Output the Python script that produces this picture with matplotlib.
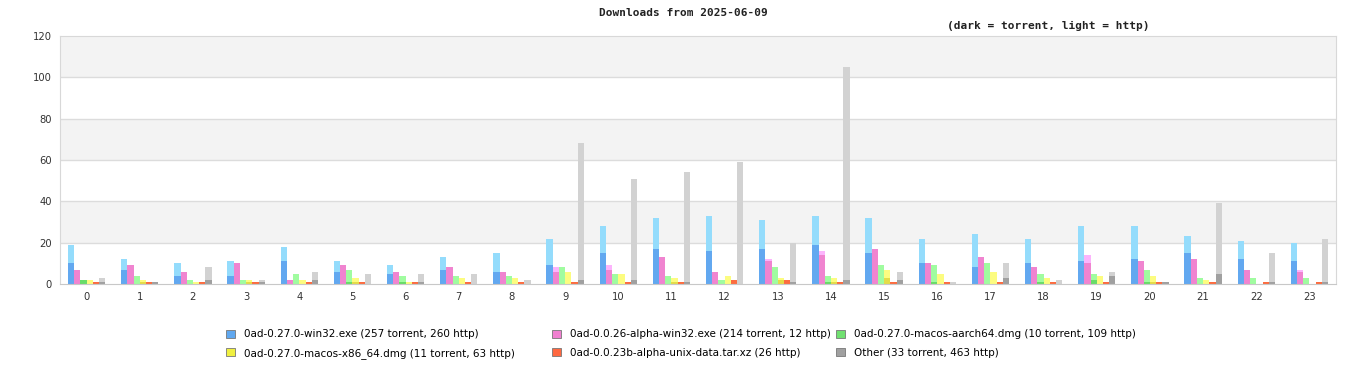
#!/usr/bin/env python3
# Hourly downloads chart: dark = torrent, light = http, one stacked bar per file
import matplotlib
matplotlib.use('Agg')
import matplotlib.pyplot as plt
from matplotlib.patches import Patch

hours = list(range(24))

# per-file counts by hour
win32_torrent = [10, 7, 4, 4, 11, 6, 5, 7, 6, 9, 15, 17, 16, 17, 19, 15, 10, 8, 10, 11, 12, 15, 12, 11]
win32_http    = [9, 5, 6, 7, 7, 5, 4, 6, 9, 13, 13, 15, 17, 14, 14, 17, 12, 16, 12, 17, 16, 8, 9, 9]
a26_torrent   = [7, 9, 6, 10, 2, 9, 6, 8, 6, 6, 7, 13, 6, 11, 14, 17, 10, 13, 8, 10, 11, 12, 7, 6]
a26_http      = [0, 0, 0, 0, 0, 0, 0, 0, 0, 2, 2, 0, 0, 1, 2, 0, 0, 0, 0, 4, 0, 0, 0, 1]
arm_torrent   = [2, 0, 0, 0, 0, 1, 1, 0, 0, 0, 0, 0, 0, 0, 1, 0, 1, 0, 1, 2, 1, 0, 0, 0]
arm_http      = [0, 4, 2, 2, 5, 6, 3, 4, 4, 8, 5, 4, 2, 8, 3, 9, 8, 10, 4, 3, 6, 3, 3, 3]
x86_torrent   = [0, 1, 0, 1, 0, 1, 0, 0, 0, 0, 0, 1, 0, 2, 1, 3, 0, 0, 0, 0, 1, 0, 0, 0]
x86_http      = [2, 1, 1, 1, 2, 2, 1, 3, 3, 6, 5, 2, 4, 1, 2, 4, 5, 6, 3, 4, 3, 2, 0, 0]
data23_torrent = [0] * 24
data23_http   = [1, 1, 1, 1, 1, 1, 1, 1, 1, 1, 1, 1, 2, 2, 1, 1, 1, 1, 1, 1, 1, 1, 1, 1]
other_torrent = [1, 1, 2, 1, 2, 0, 1, 0, 0, 2, 2, 1, 0, 1, 2, 2, 0, 3, 0, 4, 1, 5, 1, 1]
other_http    = [2, 0, 6, 1, 4, 5, 4, 5, 2, 66, 49, 53, 59, 19, 103, 4, 1, 7, 2, 2, 0, 34, 14, 21]

labels = [
    '0ad-0.27.0-win32.exe (257 torrent, 260 http)',
    '0ad-0.0.26-alpha-win32.exe (214 torrent, 12 http)',
    '0ad-0.27.0-macos-aarch64.dmg (10 torrent, 109 http)',
    '0ad-0.27.0-macos-x86_64.dmg (11 torrent, 63 http)',
    '0ad-0.0.23b-alpha-unix-data.tar.xz (26 http)',
    'Other (33 torrent, 463 http)',
]
torrent = [win32_torrent, a26_torrent, arm_torrent, x86_torrent, data23_torrent, other_torrent]
http = [win32_http, a26_http, arm_http, x86_http, data23_http, other_http]

dark = ['#62a8f0', '#f084d0', '#68dc68', '#e4dc48', '#fc6c40', '#a0a0a0']
light = ['#94dcfc', '#fcb4fc', '#a0fca0', '#fcfc80', '#fc6c40', '#d2d2d2']
legend_col = ['#60a8f0', '#f080d0', '#70e070', '#f0f040', '#ff6840', '#a0a0a0']

fig = plt.figure(figsize=(13.66, 3.8), dpi=100)
ax = fig.add_axes([60 / 1366, 96 / 380, 1276 / 1366, 248 / 380])

# alternating bands
for lo in range(0, 120, 20):
    ax.axhspan(lo, lo + 20, color='#f3f3f3' if (lo // 20) % 2 else 'white', zorder=0, lw=0)
for y in range(20, 120, 20):
    ax.axhline(y, color='#dcdcdc', lw=1, zorder=1)

bw = 0.117
for k in range(6):
    xs = [h - 0.35 + k * bw for h in hours]
    ax.bar(xs, torrent[k], width=bw, align='edge', color=dark[k], lw=0, zorder=2)
    ax.bar(xs, http[k], width=bw, bottom=torrent[k], align='edge', color=light[k], lw=0, zorder=2)

ax.set_xlim(-0.5, 23.5)
ax.set_ylim(0, 120)
ax.set_yticks(range(0, 121, 20))
ax.set_xticks(hours)
ax.tick_params(length=0, labelsize=7.2, colors='#333333', pad=6)
for s in ax.spines.values():
    s.set_color('#d8d8d8')
ax.spines['bottom'].set_color('#c8c8c8')

fig.text(0.5, 1 - 13 / 380, 'Downloads from 2025-06-09', ha='center', va='center',
         family='DejaVu Sans Mono', fontsize=8, fontweight='bold', color='#222222')
fig.text(1048 / 1366, 1 - 26 / 380, '(dark = torrent, light = http)', ha='center', va='center',
         family='DejaVu Sans Mono', fontsize=8, fontweight='bold', color='#222222')

# legend: three columns placed separately, two rows each
handles = [Patch(facecolor=legend_col[k], edgecolor='#777777', lw=0.6, label=labels[k]) for k in range(6)]
columns = [(0, 3), (1, 4), (2, 5)]
col_x = [222, 548, 832]
for (a, b), cx in zip(columns, col_x):
    fig.legend([handles[a], handles[b]], [labels[a], labels[b]], ncol=1,
               loc='upper left', bbox_to_anchor=(cx / 1366, 1 - 325 / 380),
               frameon=False, fontsize=7.5, handlelength=0.8, handleheight=0.8,
               handletextpad=0.9, labelspacing=0.85, borderaxespad=0, borderpad=0.4)

fig.savefig('out.png', dpi=100)
